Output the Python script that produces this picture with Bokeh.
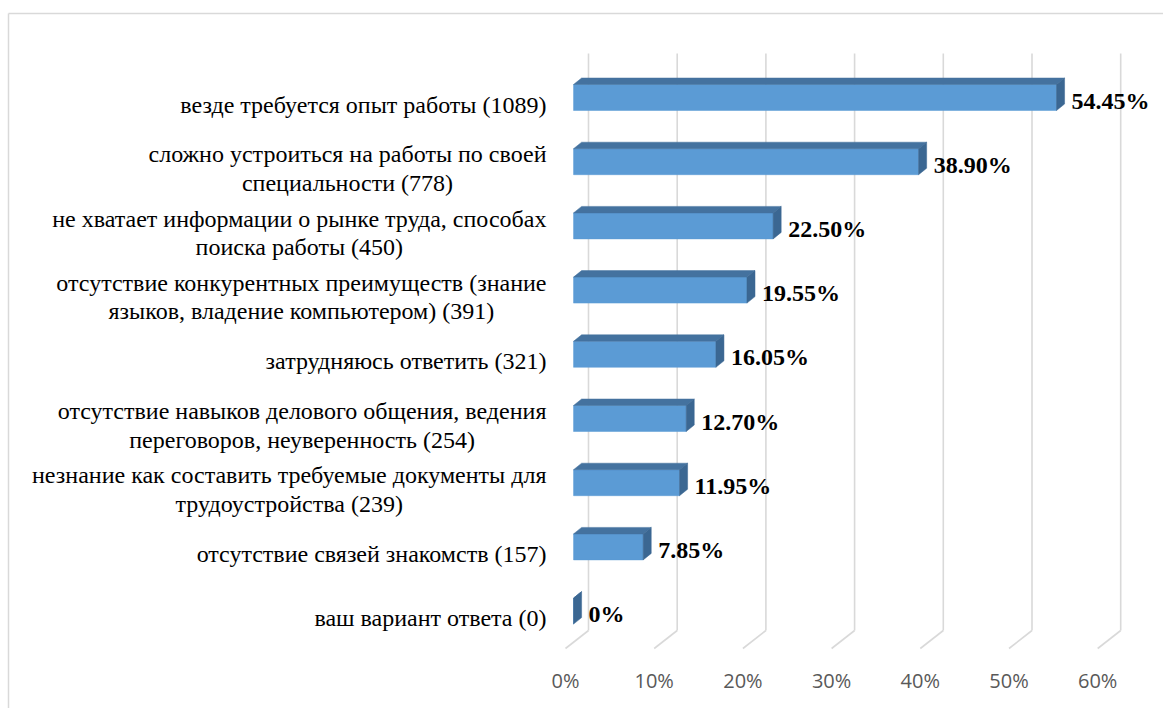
import subprocess
from bokeh.plotting import figure
from bokeh.models import Range1d, ColumnDataSource
from bokeh.core.properties import value
from bokeh.embed import file_html
from bokeh.resources import INLINE

# ---------------- data ----------------
categories = [
    "везде требуется опыт работы (1089)",
    "сложно устроиться на работы по своей\nспециальности (778)",
    "не хватает информации о рынке труда, способах\nпоиска работы (450)",
    "отсутствие конкурентных преимуществ (знание\nязыков, владение компьютером) (391)",
    "затрудняюсь ответить (321)",
    "отсутствие навыков делового общения, ведения\nпереговоров, неуверенность (254)",
    "незнание как составить требуемые документы для\nтрудоустройства (239)",
    "отсутствие связей знакомств (157)",
    "ваш вариант ответа (0)",
]
percents = [54.45, 38.90, 22.50, 19.55, 16.05, 12.70, 11.95, 7.85, 0.0]
ticks = [0, 10, 20, 30, 40, 50, 60]
tick_labels = ["0%", "10%", "20%", "30%", "40%", "50%", "60%"]

# ---------------- layout / style ----------------
W, H = 1163, 708
PX0, PXU = 565.0, 8.87     # page x of 0 %, px per %
PY0, PYU = 97.0, 64.2      # page y of first row, px per row
X0 = (0 - PX0) / PXU
X1 = (W - PX0) / PXU
Y1 = (0 - PY0) / PYU       # top
Y0 = (H - PY0) / PYU       # bottom (rows increase downward)


def dx(px):
    return px / PXU


def dy(px):
    return px / PYU


def ry(page_y):
    return (page_y - PY0) / PYU


DEPTH_X, DEPTH_Y = 23.0, -18.0   # full depth vector (px)
BAR_DX, BAR_DY = 8.05, -6.5      # bar front offset / bar depth (px)
BAR_H = 26.0
FLOOR_Y = ry(648)
WALL_TOP = ry(53)
FRONT = "#5B9BD5"
TOP = "#44729F"
SIDE = "#3B6792"
GRID = "#D9D9D9"

SERIF = "'Liberation Serif', 'Times New Roman', serif"
CAT_SIZE = 24
VAL_SIZE = 24


def text_width(s, size):
    try:
        from PIL import ImageFont
        path = subprocess.run(["fc-match", "-f", "%{file}", "Liberation Serif"],
                              capture_output=True, text=True).stdout.strip()
        f = ImageFont.truetype(path, size)
        return max(f.getlength(line) for line in s.split("\n"))
    except Exception:
        return max(0.45 * size * len(line) for line in s.split("\n"))


p = figure(width=W, height=H, x_range=Range1d(X0, X1), y_range=Range1d(Y0, Y1),
           output_backend="svg", toolbar_location=None, min_border=0,
           x_axis_location=None, y_axis_location=None)
p.outline_line_color = None
p.xgrid.visible = False
p.ygrid.visible = False
p.background_fill_color = "white"
p.border_fill_color = "white"

# chart border (top and left)
top_y = ry(13)
left_x = dx(8 - PX0)
p.segment(x0=[left_x], y0=[top_y], x1=[X1], y1=[top_y], line_color=GRID, line_width=1.5)
p.segment(x0=[left_x], y0=[top_y], x1=[left_x], y1=[Y0], line_color=GRID, line_width=1.5)

# gridlines: back wall verticals and floor diagonals
gx_back = [t + dx(DEPTH_X) for t in ticks]
p.segment(x0=gx_back, y0=[FLOOR_Y + dy(DEPTH_Y)] * len(ticks),
          x1=gx_back, y1=[WALL_TOP] * len(ticks), line_color=GRID, line_width=1.6)
p.segment(x0=ticks, y0=[FLOOR_Y] * len(ticks),
          x1=gx_back, y1=[FLOOR_Y + dy(DEPTH_Y)] * len(ticks), line_color=GRID, line_width=1.6)

# bars
rows = list(range(len(percents)))
fx = dx(BAR_DX)
bdx, bdy = dx(BAR_DX), dy(BAR_DY)
half = dy(BAR_H / 2)
front_src = ColumnDataSource(dict(
    left=[fx] * len(rows), right=[fx + v for v in percents],
    top=[r - half for r in rows], bottom=[r + half for r in rows]))
p.quad(left="left", right="right", top="top", bottom="bottom", source=front_src,
       fill_color=FRONT, line_color=FRONT, line_width=0.5)

top_xs, top_ys, side_xs, side_ys = [], [], [], []
for r, v in zip(rows, percents):
    yt, yb = r - half, r + half
    top_xs.append([fx, fx + v, fx + v + bdx, fx + bdx])
    top_ys.append([yt, yt, yt + bdy, yt + bdy])
    side_xs.append([fx + v, fx + v + bdx, fx + v + bdx, fx + v])
    side_ys.append([yt, yt + bdy, yb + bdy, yb])
p.patches(xs=top_xs, ys=top_ys, fill_color=TOP, line_color=TOP, line_width=0.5)
p.patches(xs=side_xs, ys=side_ys, fill_color=SIDE, line_color=SIDE, line_width=0.5)

# value labels
val_text = [(f"{v:.2f}%" if v else "0%") for v in percents]
p.text(x=[fx + v + bdx + dx(7) for v in percents], y=[r + dy(3) for r in rows],
       text=val_text, text_font=value(SERIF), text_font_style="bold",
       text_font_size=f"{VAL_SIZE}px", text_color="black",
       text_align="left", text_baseline="middle")

# category labels (centred block, right edge near the axis)
cat_src = ColumnDataSource(dict(
    x=[0.0] * len(rows), y=[r + dy(7) for r in rows], text=categories,
    xo=[-(19 + text_width(c, CAT_SIZE) / 2) for c in categories]))
p.text(x="x", y="y", text="text", x_offset="xo", source=cat_src,
       text_font=value(SERIF), text_font_size=f"{CAT_SIZE}px", text_color="black",
       text_align="center", text_baseline="middle", text_line_height=1.1)

# tick labels
p.text(x=ticks, y=[ry(680)] * len(ticks), text=tick_labels,
       text_font=value("Open Sans"), text_font_size="20px", text_color="#595959",
       text_align="center", text_baseline="middle")

open("out.html", "w").write(file_html(p, INLINE))
